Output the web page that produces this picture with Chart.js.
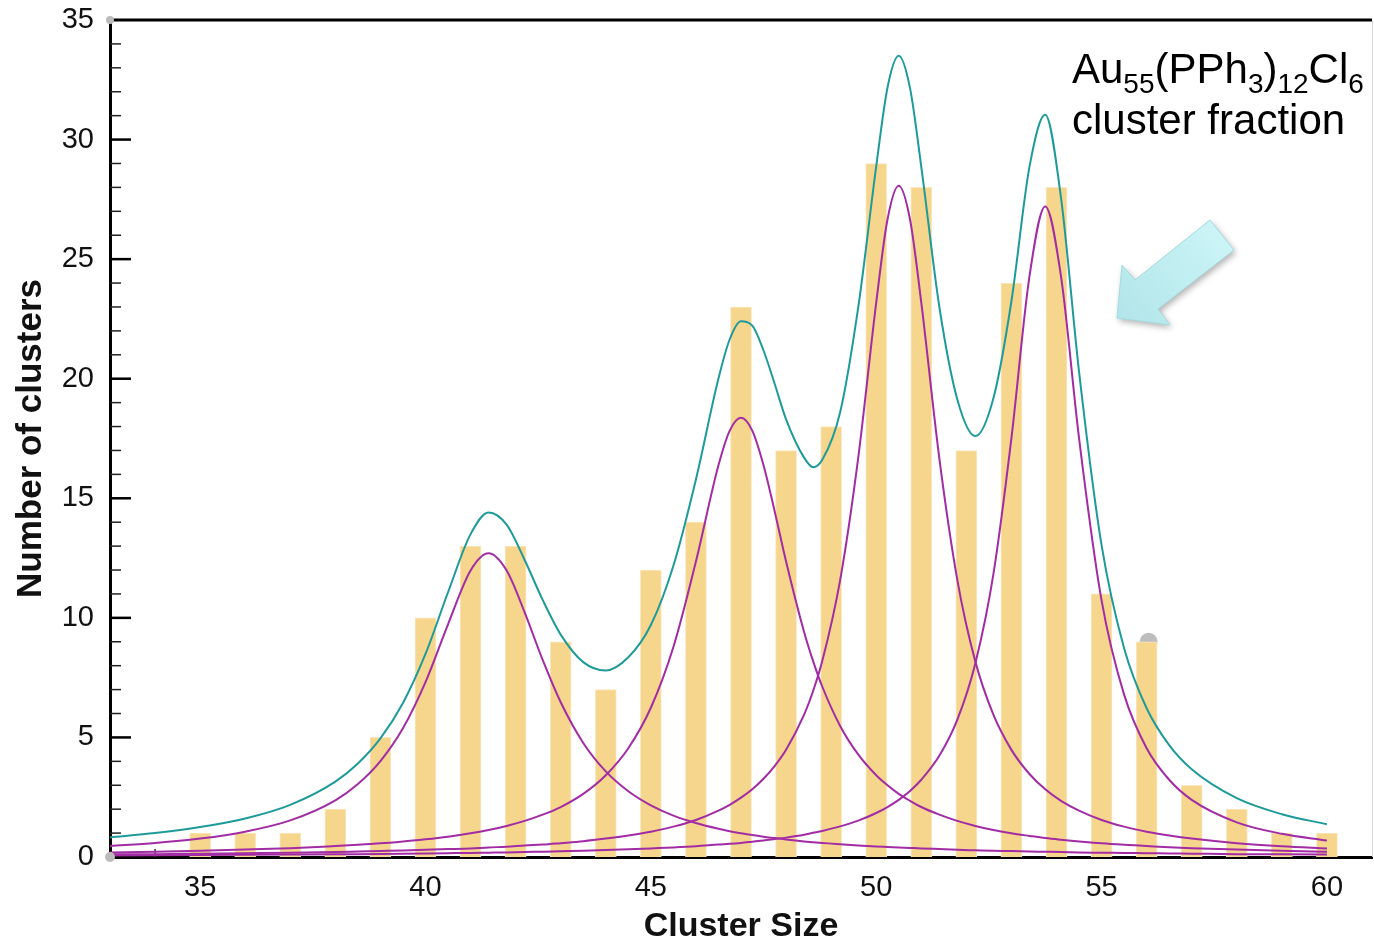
<!DOCTYPE html>
<html>
<head>
<meta charset="utf-8">
<script src="https://cdn.jsdelivr.net/npm/chart.js@4.4.1/dist/chart.umd.min.js"></script>
<style>
  body { margin: 0; background: #fff; }
</style>
</head>
<body>
<canvas id="grafico" width="1374" height="947"></canvas>
<script>
// dati: istogramma delle dimensioni dei cluster
var dimensioni = [35, 36, 37, 38, 39, 40, 41, 42, 43, 44, 45, 46, 47, 48, 49, 50, 51, 52, 53, 54, 55, 56, 57, 58, 59, 60];
var numero_cluster = [1, 1, 1, 2, 5, 10, 13, 13, 9, 7, 12, 14, 23, 17, 18, 29, 28, 17, 24, 28, 11, 9, 3, 2, 1, 1];

// ascisse dei punti delle curve di fit
var x_curve = [33, 34, 35, 36, 37, 38, 38.5, 39, 39.5, 40, 40.5, 41, 41.4, 41.8, 42.2, 42.6, 43, 43.5, 44, 44.5,
  45, 45.5, 46, 46.5, 46.75, 47, 47.25, 47.5, 47.75, 48, 48.4, 48.6, 48.8, 49.2, 49.6, 50, 50.25, 50.5, 50.75, 51, 51.4, 51.8, 52.2, 52.6,
  53, 53.4, 53.75, 54.1, 54.5, 55, 55.5, 56, 56.5, 57, 58, 59, 60];

// picchi singoli (viola)
var picco_1 = [0.46, 0.59, 0.77, 1.06, 1.53, 2.37, 3.05, 4.01, 5.38, 7.31, 9.73, 11.98, 12.70, 11.98, 10.23, 8.24, 6.47, 4.77, 3.58, 2.75,
  2.16, 1.73, 1.42, 1.18, 1.08, 0.99, 0.92, 0.85, 0.79, 0.73, 0.65, 0.62, 0.59, 0.53, 0.48, 0.44, 0.42, 0.40, 0.38, 0.36, 0.33, 0.30, 0.28, 0.26,
  0.25, 0.23, 0.22, 0.21, 0.19, 0.18, 0.17, 0.16, 0.15, 0.14, 0.12, 0.11, 0.10];
var picco_2 = [0.19, 0.22, 0.26, 0.31, 0.37, 0.46, 0.51, 0.57, 0.65, 0.74, 0.85, 0.99, 1.13, 1.30, 1.51, 1.77, 2.09, 2.64, 3.42, 4.55,
  6.24, 8.78, 12.36, 16.38, 17.83, 18.37, 17.83, 16.38, 14.43, 12.36, 9.41, 8.19, 7.14, 5.48, 4.29, 3.42, 3.00, 2.64, 2.35, 2.09, 1.77, 1.51, 1.30, 1.13,
  0.99, 0.88, 0.79, 0.72, 0.65, 0.57, 0.51, 0.46, 0.41, 0.37, 0.31, 0.26, 0.22];
var picco_3 = [0.11, 0.12, 0.14, 0.16, 0.18, 0.21, 0.23, 0.25, 0.27, 0.30, 0.33, 0.36, 0.40, 0.43, 0.48, 0.52, 0.58, 0.66, 0.77, 0.90,
  1.06, 1.27, 1.55, 1.94, 2.18, 2.48, 2.83, 3.27, 3.81, 4.48, 5.95, 6.94, 8.17, 11.58, 16.68, 23.18, 26.66, 28.07, 26.66, 23.18, 16.68, 11.58, 8.17, 5.95,
  4.48, 3.47, 2.83, 2.35, 1.94, 1.55, 1.27, 1.06, 0.90, 0.77, 0.58, 0.45, 0.36];
var picco_4 = [0.06, 0.07, 0.08, 0.09, 0.10, 0.11, 0.12, 0.13, 0.14, 0.15, 0.16, 0.17, 0.18, 0.19, 0.21, 0.22, 0.24, 0.26, 0.29, 0.32,
  0.36, 0.40, 0.45, 0.52, 0.55, 0.59, 0.64, 0.69, 0.75, 0.81, 0.93, 1.01, 1.09, 1.28, 1.52, 1.84, 2.09, 2.39, 2.76, 3.23, 4.23, 5.74, 8.10, 11.83,
  17.52, 24.28, 27.20, 24.28, 17.52, 10.73, 6.79, 4.55, 3.23, 2.39, 1.45, 0.97, 0.69];
// curva totale (verde acqua)
var fit_totale = [0.82, 1.00, 1.25, 1.61, 2.18, 3.15, 3.91, 4.96, 6.44, 8.49, 11.07, 13.50, 14.41, 13.90, 12.42, 10.75, 9.30, 8.15, 7.80, 8.35,
  9.70, 12.18, 15.79, 20.01, 21.65, 22.40, 22.22, 21.18, 19.77, 18.30, 16.70, 16.30, 16.60, 18.60, 22.97, 28.88, 32.17, 33.50, 32.15, 28.86, 23.01, 19.13, 17.60, 19.18,
  23.24, 28.86, 31.04, 27.56, 20.30, 13.04, 8.73, 6.22, 4.68, 3.67, 2.46, 1.79, 1.37];

// puntino grigio sopra la barra 56
var punto_grigio_x = [56];
var punto_grigio_y = [9];

var tick_x = [35, 40, 45, 50, 55, 60];
var tick_y = [0, 5, 10, 15, 20, 25, 30, 35];

function a_punti(xx, yy) {
  var punti = [];
  for (var i = 0; i < xx.length; i++) {
    punti.push({ x: xx[i], y: yy[i] });
  }
  return punti;
}

var viola = '#a22ca4';
var verde_acqua = '#1f9a9a';

function curva(valori, colore) {
  return {
    type: 'line',
    data: a_punti(x_curve, valori),
    borderColor: colore,
    borderWidth: 2,
    pointRadius: 0,
    fill: false,
    cubicInterpolationMode: 'monotone',
    order: 1
  };
}

function forma_freccia(ctx) {
  ctx.beginPath();
  ctx.moveTo(1117, 318);
  ctx.lineTo(1122, 265);
  ctx.lineTo(1135, 280);
  ctx.lineTo(1210, 220);
  ctx.lineTo(1234, 250);
  ctx.lineTo(1158, 309);
  ctx.lineTo(1170, 325);
  ctx.closePath();
}

// disegno tacche, bordo, testo e freccia
var decorazioni = {
  id: 'decorazioni',
  beforeDatasetsDraw: function(chart) {
    var ctx = chart.ctx;
    var sx = chart.scales.x;
    var sy = chart.scales.y;
    var area = chart.chartArea;
    ctx.save();
    ctx.strokeStyle = '#333';
    ctx.lineWidth = 1.5;
    for (var v = 34; v <= 60; v++) {
      var px = sx.getPixelForValue(v);
      ctx.beginPath();
      ctx.moveTo(px, area.bottom);
      ctx.lineTo(px, area.bottom - 8);
      ctx.stroke();
    }
    // puntino grigio, la barra lo copre per metà
    ctx.fillStyle = '#bdbdbd';
    for (var k = 0; k < punto_grigio_x.length; k++) {
      ctx.beginPath();
      ctx.arc(sx.getPixelForValue(punto_grigio_x[k]) + 2, sy.getPixelForValue(punto_grigio_y[k]), 9, 0, Math.PI * 2);
      ctx.fill();
    }
    ctx.restore();
  },
  afterDraw: function(chart) {
    var ctx = chart.ctx;
    var sy = chart.scales.y;
    var area = chart.chartArea;
    ctx.save();
    // tacche asse y verso l'interno
    for (var v = 1; v < 35; v++) {
      var py = sy.getPixelForValue(v);
      var lungo = (v % 5 === 0);
      ctx.strokeStyle = lungo ? '#000' : '#222';
      ctx.lineWidth = lungo ? 2.5 : 1.5;
      ctx.beginPath();
      ctx.moveTo(area.left, py);
      ctx.lineTo(area.left + (lungo ? 21 : 11), py);
      ctx.stroke();
    }
    // bordo superiore e destro
    ctx.strokeStyle = '#000';
    ctx.lineWidth = 3;
    ctx.beginPath();
    ctx.moveTo(area.left, area.top);
    ctx.lineTo(area.right, area.top);
    ctx.stroke();
    ctx.strokeStyle = '#d8d8d8';
    ctx.lineWidth = 1;
    ctx.beginPath();
    ctx.moveTo(area.right + 0.5, area.top);
    ctx.lineTo(area.right + 0.5, area.bottom);
    ctx.stroke();
    // puntini grigi agli angoli
    ctx.fillStyle = '#bbb';
    ctx.beginPath();
    ctx.arc(area.left, area.top, 4, 0, Math.PI * 2);
    ctx.fill();
    ctx.beginPath();
    ctx.arc(area.left, area.bottom, 5, 0, Math.PI * 2);
    ctx.fill();

    // freccia azzurra
    ctx.save();
    ctx.shadowColor = 'rgba(0,0,0,0.3)';
    ctx.shadowBlur = 6;
    ctx.shadowOffsetX = 2;
    ctx.shadowOffsetY = 3;
    var grad = ctx.createLinearGradient(1225, 225, 1125, 315);
    grad.addColorStop(0, '#cdf5f7');
    grad.addColorStop(1, '#b3e6ea');
    ctx.fillStyle = grad;
    forma_freccia(ctx);
    ctx.fill();
    ctx.restore();
    ctx.strokeStyle = '#a6dade';
    ctx.lineWidth = 1;
    forma_freccia(ctx);
    ctx.stroke();

    // formula con pedici
    var pezzi = [['Au', 0], ['55', 1], ['(PPh', 0], ['3', 1], [')', 0], ['12', 1], ['Cl', 0], ['6', 1]];
    var x = 1072;
    ctx.fillStyle = '#000';
    ctx.textBaseline = 'alphabetic';
    ctx.textAlign = 'left';
    for (var i = 0; i < pezzi.length; i++) {
      if (pezzi[i][1]) {
        ctx.font = '28px "Liberation Sans", Arial, sans-serif';
        ctx.fillText(pezzi[i][0], x, 93);
      } else {
        ctx.font = '42px "Liberation Sans", Arial, sans-serif';
        ctx.fillText(pezzi[i][0], x, 83);
      }
      x += ctx.measureText(pezzi[i][0]).width;
    }
    ctx.font = '42px "Liberation Sans", Arial, sans-serif';
    ctx.fillText('cluster fraction', 1072, 134);
    ctx.restore();
  }
};

var ctx = document.getElementById('grafico');
var grafico = new Chart(ctx, {
  type: 'bar',
  data: {
    datasets: [
      {
        type: 'bar',
        data: a_punti(dimensioni, numero_cluster),
        backgroundColor: '#f6d58d',
        borderColor: '#fbe7c0',
        borderWidth: 1,
        barThickness: 21,
        order: 5
      },
      curva(picco_1, viola),
      curva(picco_2, viola),
      curva(picco_3, viola),
      curva(picco_4, viola),
      curva(fit_totale, verde_acqua)
    ]
  },
  options: {
    responsive: false,
    animation: false,
    layout: { padding: { top: 20, right: 2, left: 0, bottom: 0 } },
    plugins: {
      legend: { display: false },
      tooltip: { enabled: false }
    },
    scales: {
      x: {
        type: 'linear',
        min: 33,
        max: 61,
        offset: false,
        afterBuildTicks: function(scale) {
          scale.ticks = tick_x.map(function(v) { return { value: v }; });
        },
        afterFit: function(scale) {
          scale.height = 90;
          scale.paddingLeft = 0;
          scale.paddingRight = 0;
        },
        grid: { display: false, drawTicks: false, offset: false },
        border: { display: true, color: '#000', width: 3 },
        ticks: {
          autoSkip: false,
          maxRotation: 0,
          padding: 14,
          color: '#111',
          font: { family: '"Liberation Sans", Arial, sans-serif', size: 29 }
        },
        title: {
          display: true,
          text: 'Cluster Size',
          color: '#111',
          padding: { top: 0, bottom: 0 },
          font: { family: '"Liberation Sans", Arial, sans-serif', size: 34, weight: 'bold', lineHeight: 1.2 }
        }
      },
      y: {
        min: 0,
        max: 35,
        afterBuildTicks: function(scale) {
          scale.ticks = tick_y.map(function(v) { return { value: v }; });
        },
        afterFit: function(scale) {
          scale.width = 110;
          scale.paddingTop = 0;
          scale.paddingBottom = 0;
        },
        grid: { display: false, drawTicks: false },
        border: { display: true, color: '#000', width: 3 },
        ticks: {
          padding: 16,
          color: '#111',
          font: { family: '"Liberation Sans", Arial, sans-serif', size: 29 }
        },
        title: {
          display: true,
          text: 'Number of clusters',
          color: '#111',
          padding: { top: 10, bottom: 0 },
          font: { family: '"Liberation Sans", Arial, sans-serif', size: 35, weight: 'bold', lineHeight: 1.2 }
        }
      }
    }
  },
  plugins: [decorazioni]
});
</script>
</body>
</html>
